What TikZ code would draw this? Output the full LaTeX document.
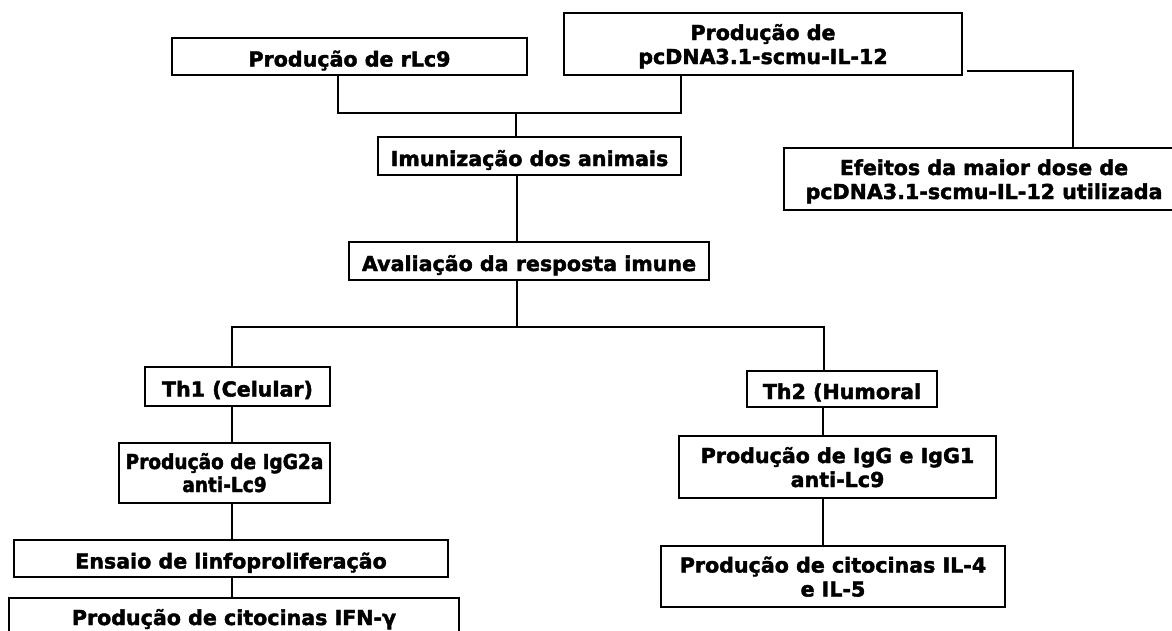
\documentclass[tikz,border=0pt]{standalone}
\usepackage{fontspec}
\setmainfont{DejaVu Sans}[BoldFeatures={FakeBold=2}]
\newfontfamily\narrowdv{DejaVu Sans}[FakeStretch=0.9, BoldFeatures={FakeBold=2}]
\begin{document}
\begin{tikzpicture}[x=1pt,y=-1pt]
\tikzset{
  box/.style={draw, line width=1.4pt, rectangle, inner sep=0pt,
    font=\bfseries\fontsize{20.6}{24}\selectfont, text height=20pt, text depth=0pt},
  twoline/.style={box, text height=0pt, text depth=8pt},
  thickbox/.style={twoline, line width=2.8pt},
  conn/.style={line width=1.4pt}
}
\useasboundingbox (0,0) rectangle (1172,630);
% boxes
\node[box, minimum width=355pt, minimum height=37pt] (rlc) at (349.5,56.5) {Produção de rLc9};
\node[twoline, minimum width=398pt, minimum height=62pt] (pcdna) at (763,44) {\begin{tabular}[t]{@{}c@{}}Produção de\\pcDNA3.1-scmu-IL-12\end{tabular}};
\node[box, minimum width=303pt, minimum height=38pt] (imun) at (529.5,156) {Imunização dos animais};
\node[thickbox, minimum width=400pt, minimum height=62pt] (efe) at (984,179) {\begin{tabular}[t]{@{}c@{}}Efeitos da maior dose de\\pcDNA3.1-scmu-IL-12 utilizada\end{tabular}};
\node[box, minimum width=360pt, minimum height=38pt] (aval) at (529,261) {Avaliação da resposta imune};
\node[box, minimum width=185pt, minimum height=39pt] (th1) at (237.5,386.5) {Th1 (Celular)};
\node[box, minimum width=190pt, minimum height=36pt] (th2) at (842,389) {Th2 (Humoral};
\node[twoline, minimum width=211pt, minimum height=60pt, font=\narrowdv\bfseries\fontsize{20.6}{23}\selectfont] (igg2a) at (224.5,473) {\begin{tabular}[t]{@{}c@{}}Produção de IgG2a\\anti-Lc9\end{tabular}};
\node[box, minimum width=434pt, minimum height=37pt] (ens) at (231,558.5) {Ensaio de linfoproliferação};
\node[twoline, minimum width=450pt, minimum height=62pt] (ifn) at (234,629) {\begin{tabular}[t]{@{}c@{}}Produção de citocinas IFN-γ\\\mbox{}\end{tabular}};
\node[twoline, minimum width=317pt, minimum height=62pt] (igg) at (837.5,467) {\begin{tabular}[t]{@{}c@{}}Produção de IgG e IgG1\\anti-Lc9\end{tabular}};
\node[twoline, minimum width=344pt, minimum height=61pt] (il4) at (833,576.5) {\begin{tabular}[t]{@{}c@{}}Produção de citocinas IL-4\\e IL-5\end{tabular}};
% junction coordinates
\coordinate (ja) at (338,113);
\coordinate (jb) at (681,113);
\coordinate (jc) at (516,113);
\coordinate (jd) at (517,327);
\coordinate (je) at (232,327);
\coordinate (jf) at (824,327);
\coordinate (pr) at (967,71);
\coordinate (pc) at (1073,71);
\coordinate (xl) at (232,0);
\coordinate (xr) at (823,0);
% connectors
\draw[conn] (rlc.south -| ja) -- (ja) -- (jb) -- (pcdna.south -| jb);
\draw[conn] (jc) -- (imun.north -| jc);
\draw[conn] (imun.south -| jd) -- (aval.north -| jd);
\draw[conn] (aval.south -| jd) -- ([yshift=1pt]jd);
\draw[conn] (th1.north -| je) -- (je) -- (jf) -- (th2.north -| jf);
\draw[conn] (pr) -- (pc) -- (efe.north -| pc);
\draw[conn] (th1.south -| xl) -- (igg2a.north -| xl);
\draw[conn] (igg2a.south -| xl) -- (ens.north -| xl);
\draw[conn] (ens.south -| xl) -- (ifn.north -| xl);
\draw[conn] (th2.south -| xr) -- (igg.north -| xr);
\draw[conn] (igg.south -| xr) -- (il4.north -| xr);
\end{tikzpicture}
\end{document}
